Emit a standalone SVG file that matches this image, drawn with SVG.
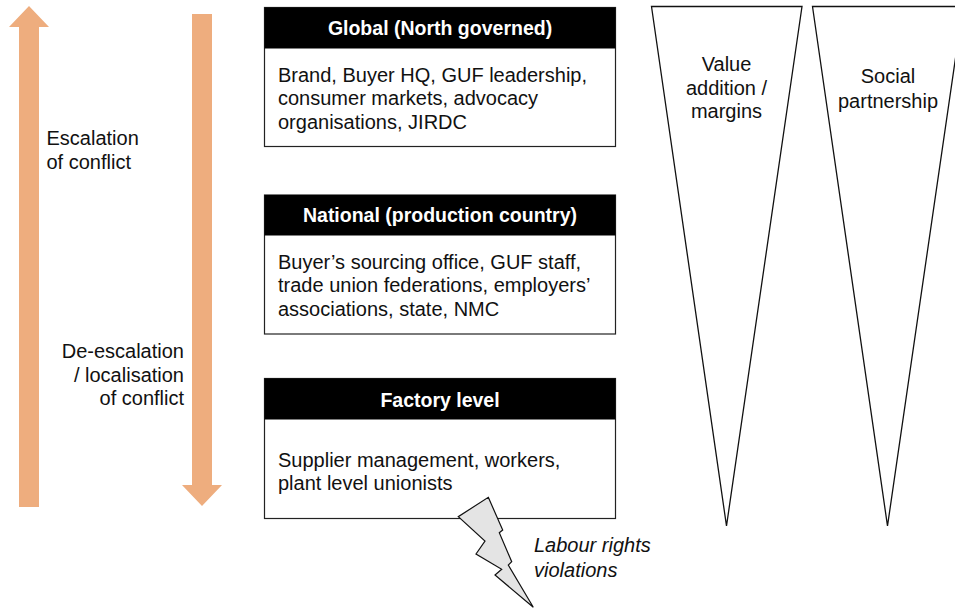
<svg xmlns="http://www.w3.org/2000/svg" width="955" height="609" viewBox="0 0 955 609">
<style>
.box{fill:#fff;stroke:#222;stroke-width:1.2}
.hdr{fill:#000}
.ht{font-family:"Liberation Sans",Arial,sans-serif;font-size:19.5px;font-weight:bold;fill:#fff;text-anchor:middle}
.t{font-family:"Liberation Sans",Arial,sans-serif;font-size:20px;fill:#111}
.ti{font-family:"Liberation Sans",Arial,sans-serif;font-size:20px;font-style:italic;fill:#111}
.arr{fill:#EEAD7E}
.tri{fill:#fff;stroke:#111;stroke-width:1.3;stroke-linejoin:miter}
.bolt{fill:#e4e4e4;stroke:#111;stroke-width:1.2;stroke-linejoin:miter}
</style>
<rect width="955" height="609" fill="#fff"/>
<g id="connectors">
  <polygon class="arr" points="19,507 39,507 39,27 49,27 29,6 9,27 19,27"/>
  <polygon class="arr" points="192,14 212,14 212,485 222,485 202,506 182,485 192,485"/>
</g>
<g id="escalation-label">
  <text class="t" x="46.5" y="145">Escalation</text>
  <text class="t" x="46.5" y="169">of conflict</text>
</g>
<g id="deescalation-label">
  <text class="t" x="184" y="358" text-anchor="end">De-escalation</text>
  <text class="t" x="184" y="381.5" text-anchor="end">/ localisation</text>
  <text class="t" x="184" y="405" text-anchor="end">of conflict</text>
</g>
<g id="global">
  <rect class="box" x="264.5" y="7.5" width="351" height="139"/>
  <rect class="hdr" x="264.5" y="7.5" width="351" height="41"/>
  <text class="ht" x="440" y="34.5">Global (North governed)</text>
  <text class="t" x="278" y="82">Brand, Buyer HQ, GUF leadership,</text>
  <text class="t" x="278" y="105.3">consumer markets, advocacy</text>
  <text class="t" x="278" y="128.6">organisations, JIRDC</text>
</g>
<g id="national">
  <rect class="box" x="264.5" y="195" width="351" height="139"/>
  <rect class="hdr" x="264.5" y="195" width="351" height="40.5"/>
  <text class="ht" x="440" y="221.5">National (production country)</text>
  <text class="t" x="278" y="269">Buyer’s sourcing office, GUF staff,</text>
  <text class="t" x="278" y="292.3">trade union federations, employers’</text>
  <text class="t" x="278" y="315.6">associations, state, NMC</text>
</g>
<g id="factory">
  <rect class="box" x="264.5" y="378.5" width="351" height="140"/>
  <rect class="hdr" x="264.5" y="378.5" width="351" height="41"/>
  <text class="ht" x="440" y="406.5">Factory level</text>
  <text class="t" x="278" y="467">Supplier management, workers,</text>
  <text class="t" x="278" y="490">plant level unionists</text>
</g>
<g id="violations">
  <polygon class="bolt" points="488.3,497.3 502.7,530 499.3,532.7 511.7,561.7 508.3,565 533.3,607.3 495,575 501.7,569.3 476,554 485,541 458.3,516.7"/>
  <text class="ti" x="534" y="552">Labour rights</text>
  <text class="ti" x="534" y="577">violations</text>
</g>
<g id="value-addition">
  <polygon class="tri" points="651.5,6.5 802,6.5 726.5,526"/>
  <text class="t" x="726.5" y="71" text-anchor="middle">Value</text>
  <text class="t" x="726.5" y="94.5" text-anchor="middle">addition /</text>
  <text class="t" x="726.5" y="118" text-anchor="middle">margins</text>
</g>
<g id="social-partnership">
  <polygon class="tri" points="812.5,6.5 963,6.5 887.5,526"/>
  <text class="t" x="888" y="83" text-anchor="middle">Social</text>
  <text class="t" x="888" y="107.5" text-anchor="middle">partnership</text>
</g>
</svg>
